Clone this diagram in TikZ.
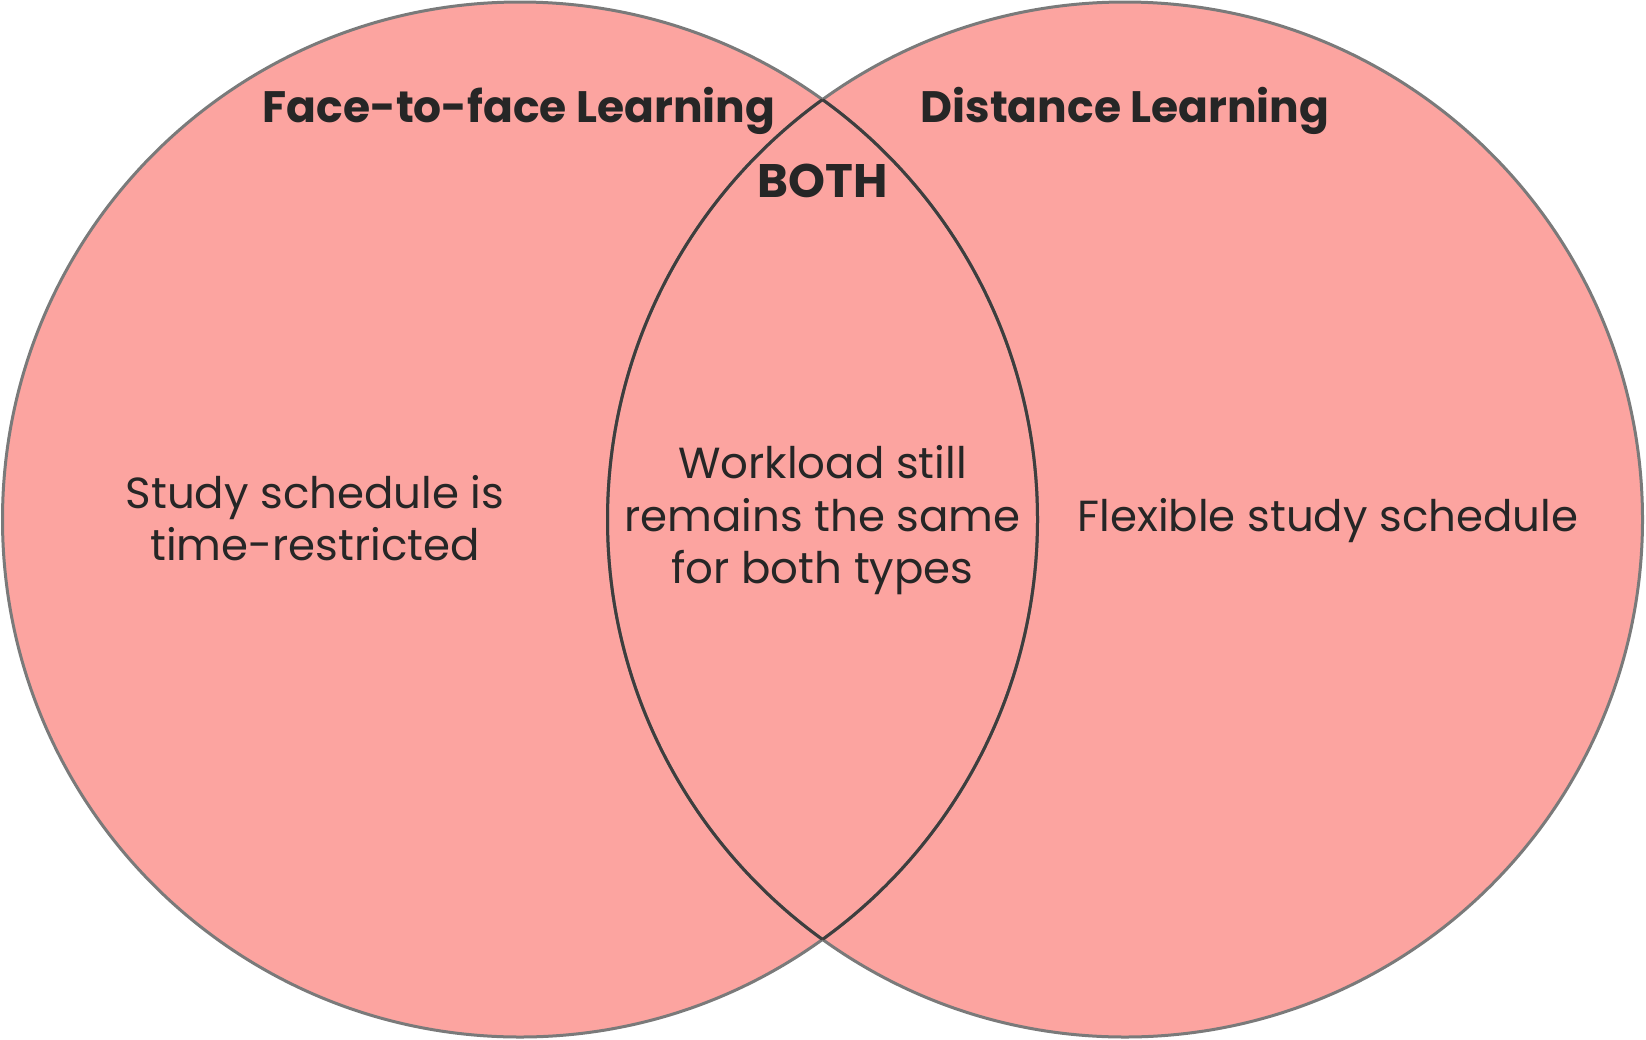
\documentclass[tikz,border=0pt]{standalone}
\usepackage{fontspec}
\setmainfont{Poppins}
\definecolor{vennfill}{HTML}{FCA4A0}
\definecolor{rimgray}{HTML}{7A7A7A}
\definecolor{lensrim}{HTML}{3E3E3E}
\definecolor{ink}{HTML}{262626}
\begin{document}
\begin{tikzpicture}[x=1pt,y=-1pt,
  rim/.style={draw=rimgray,line width=3pt},
  lens/.style={draw=lensrim,line width=3pt},
  title/.style={text=ink,font=\fontsize{44}{52}\selectfont\bfseries,inner sep=0pt},
  body/.style={text=ink,font=\fontsize{43.5}{52.5}\selectfont,align=center,inner sep=0pt}]
\useasboundingbox (0,0) rectangle (1646,1039);
% the two sets
\coordinate (cl) at (520,519.5);
\coordinate (cr) at (1125,519.5);
\fill[vennfill] (cl) circle[radius=517.5];
\fill[vennfill] (cr) circle[radius=517.5];
\draw[rim] (cl) circle[radius=517.5];
\draw[rim] (cr) circle[radius=517.5];
% darker rims around the overlap
\begin{scope}
  \clip (cr) circle[radius=517.5];
  \draw[lens] (cl) circle[radius=517.5];
\end{scope}
\begin{scope}
  \clip (cl) circle[radius=517.5];
  \draw[lens] (cr) circle[radius=517.5];
\end{scope}
% headings
\node[title] (ftf) at (519,111) {Face-to-face Learning};
\node[title] (dist) at (1125,111) {Distance Learning};
\node[title,font=\fontsize{47}{52}\selectfont\bfseries] (both) at (822.5,181) {BOTH};
% contents
\node[body] (ltxt) at (315,518) {Study schedule is\\time-restricted};
\node[body] (mtxt) at (822.5,520.5) {Workload still\\remains the same\\for both types};
\node[body] (rtxt) at (1328,520.5) {Flexible study schedule};
\end{tikzpicture}
\end{document}
